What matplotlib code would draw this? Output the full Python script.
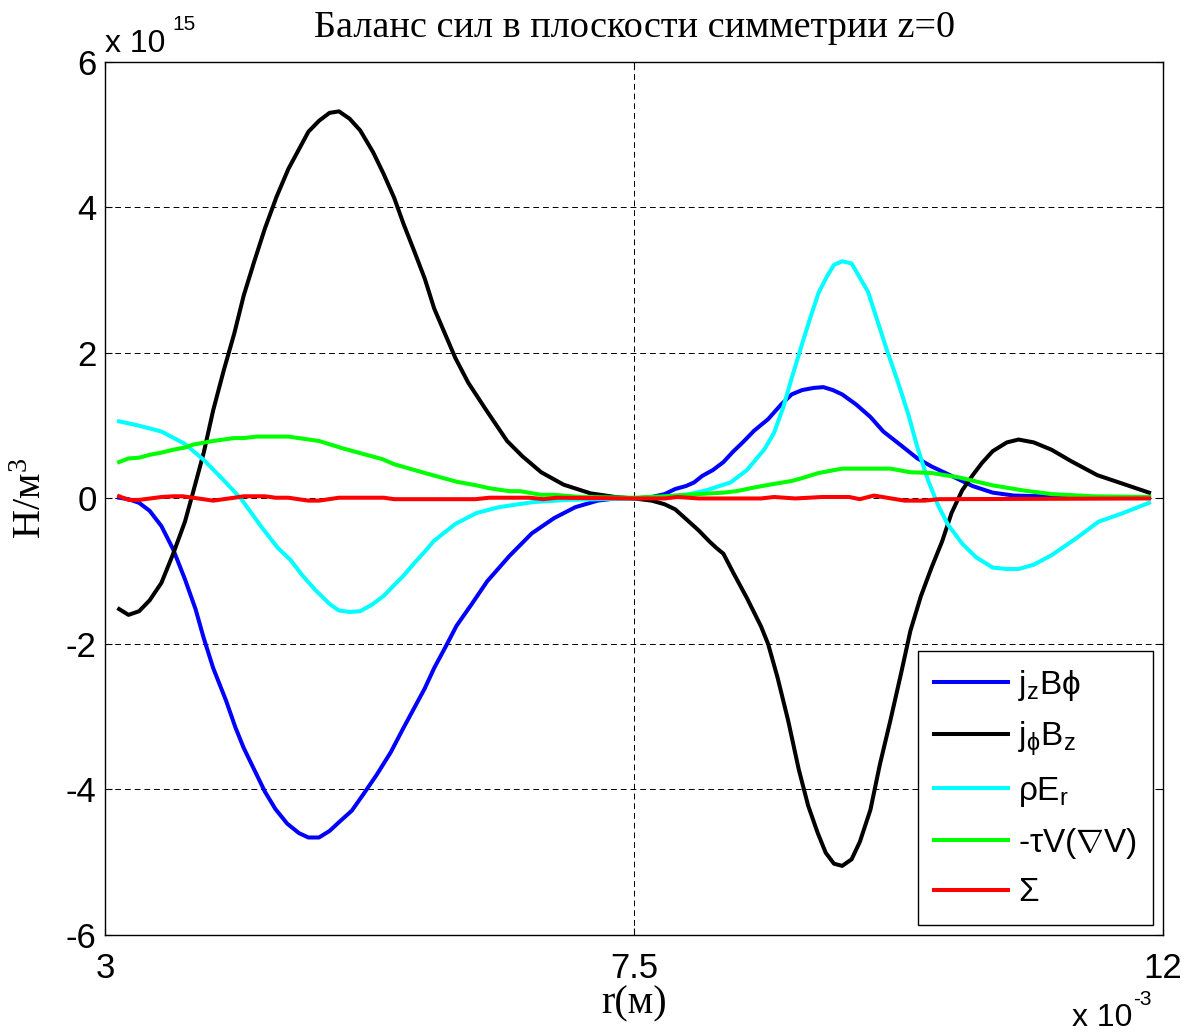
import matplotlib
matplotlib.use('Agg')
import matplotlib.pyplot as plt

plt.rcParams['font.family'] = ['Liberation Sans', 'DejaVu Sans']
plt.rcParams['axes.unicode_minus'] = False
plt.rcParams['mathtext.fontset'] = 'custom'
plt.rcParams['mathtext.rm'] = 'Liberation Serif'
plt.rcParams['mathtext.it'] = 'Liberation Serif'
plt.rcParams['mathtext.sf'] = 'Liberation Sans'

# r in units of 1e-3 m, forces in units of 1e15 N/m^3
# j_z B_phi (blue)
r_blue = [3.12, 3.20, 3.29, 3.38, 3.48, 3.58, 3.68, 3.77, 3.84, 3.92, 4.03, 4.11, 4.18, 4.27,
          4.36, 4.45, 4.55, 4.65, 4.73, 4.82, 4.91, 4.99, 5.10, 5.20, 5.31, 5.43, 5.54, 5.63,
          5.72, 5.80, 5.89, 5.99, 6.12, 6.25, 6.44, 6.63, 6.82, 7.00, 7.19, 7.34, 7.50,
          7.65, 7.76, 7.85, 7.94, 8.01, 8.08, 8.17, 8.26, 8.34, 8.43, 8.52, 8.64, 8.75, 8.84,
          8.93, 9.03, 9.11, 9.19, 9.27, 9.39, 9.51, 9.62, 9.77, 9.91, 10.03, 10.20, 10.38,
          10.55, 10.73, 10.96, 11.25, 11.88]
f_blue = [0.01, -0.01, -0.06, -0.17, -0.38, -0.70, -1.11, -1.52, -1.92, -2.33, -2.78, -3.15,
          -3.43, -3.73, -4.03, -4.27, -4.47, -4.60, -4.66, -4.66, -4.57, -4.45, -4.29, -4.06,
          -3.80, -3.49, -3.15, -2.88, -2.61, -2.33, -2.06, -1.75, -1.45, -1.14, -0.79, -0.48,
          -0.27, -0.12, -0.03, 0.0, 0.0,
          0.02, 0.06, 0.13, 0.17, 0.22, 0.31, 0.39, 0.50, 0.64, 0.78, 0.93, 1.09, 1.29, 1.43,
          1.49, 1.52, 1.53, 1.49, 1.43, 1.29, 1.12, 0.92, 0.73, 0.55, 0.44, 0.31, 0.17,
          0.08, 0.04, 0.03, 0.02, 0.01]

# j_phi B_z (black)
r_black = [3.12, 3.20, 3.29, 3.38, 3.48, 3.58, 3.68, 3.75, 3.84, 3.92, 4.01, 4.10, 4.18, 4.27,
           4.36, 4.46, 4.56, 4.65, 4.73, 4.82, 4.91, 4.99, 5.08, 5.17, 5.28, 5.37, 5.46, 5.54,
           5.63, 5.72, 5.80, 5.89, 5.98, 6.09, 6.24, 6.42, 6.55, 6.71, 6.90, 7.13, 7.34, 7.50,
           7.65, 7.76, 7.85, 7.94, 8.05, 8.14, 8.20, 8.26, 8.34, 8.46, 8.58, 8.64, 8.72, 8.81,
           8.90, 8.98, 9.06, 9.13, 9.20, 9.27, 9.35, 9.42, 9.51, 9.59, 9.68, 9.77, 9.85, 9.94,
           10.03, 10.12, 10.20, 10.29, 10.38, 10.46, 10.55, 10.67, 10.77, 10.90, 11.05, 11.22,
           11.44, 11.66, 11.88]
f_black = [-1.52, -1.60, -1.55, -1.40, -1.16, -0.76, -0.32, 0.09, 0.63, 1.21, 1.76, 2.27, 2.79,
           3.26, 3.71, 4.15, 4.53, 4.80, 5.04, 5.19, 5.30, 5.32, 5.22, 5.06, 4.76, 4.46, 4.13,
           3.77, 3.40, 3.02, 2.61, 2.27, 1.93, 1.59, 1.22, 0.79, 0.58, 0.36, 0.19, 0.07, 0.02,
           0.0,
           -0.03, -0.08, -0.15, -0.28, -0.44, -0.59, -0.68, -0.76, -1.01, -1.37, -1.76, -2.00,
           -2.46, -3.05, -3.72, -4.22, -4.59, -4.87, -5.02, -5.05, -4.96, -4.72, -4.28, -3.66,
           -3.05, -2.41, -1.82, -1.34, -0.95, -0.59, -0.20, 0.11, 0.32, 0.49, 0.65, 0.77, 0.81,
           0.77, 0.67, 0.51, 0.32, 0.20, 0.08]

# rho E_r (cyan)
r_cyan = [3.12, 3.29, 3.48, 3.68, 3.84, 4.01, 4.16, 4.33, 4.47, 4.58, 4.68, 4.79, 4.91, 4.99,
          5.08, 5.17, 5.27, 5.37, 5.46, 5.54, 5.63, 5.72, 5.80, 5.98, 6.16, 6.35, 6.64, 6.93,
          7.50, 7.76, 7.97, 8.11, 8.32, 8.46, 8.61, 8.69, 8.77, 8.84, 8.93, 9.00, 9.07, 9.14,
          9.20, 9.27, 9.35, 9.40, 9.49, 9.56, 9.65, 9.74, 9.83, 9.91, 10.00, 10.09, 10.17,
          10.29, 10.41, 10.55, 10.67, 10.77, 10.90, 11.05, 11.25, 11.45, 11.66, 11.88]
f_cyan = [1.06, 1.00, 0.92, 0.75, 0.53, 0.25, -0.01, -0.39, -0.68, -0.85, -1.06, -1.26, -1.45,
          -1.54, -1.56, -1.55, -1.46, -1.34, -1.19, -1.06, -0.89, -0.73, -0.58, -0.35, -0.20,
          -0.12, -0.05, -0.02, 0.0, 0.02, 0.06, 0.11, 0.22, 0.39, 0.68, 0.90, 1.26, 1.65, 2.13,
          2.49, 2.83, 3.05, 3.21, 3.26, 3.23, 3.09, 2.84, 2.49, 2.04, 1.62, 1.17, 0.70, 0.25,
          -0.11, -0.36, -0.62, -0.81, -0.95, -0.97, -0.97, -0.91, -0.78, -0.56, -0.32, -0.20,
          -0.06]

# -tau V (grad V) (green)
r_green = [3.12, 3.20, 3.29, 3.38, 3.48, 3.58, 3.68, 3.75, 3.92, 4.10, 4.18, 4.29, 4.56, 4.82,
           5.02, 5.20, 5.36, 5.46, 5.72, 5.99, 6.16, 6.27, 6.44, 6.53, 6.71, 6.82, 7.05, 7.50,
           7.76, 8.05, 8.26, 8.37, 8.52, 8.69, 8.84, 8.93, 9.07, 9.27, 9.68, 9.85, 10.03,
           10.26, 10.55, 10.81, 11.05, 11.40, 11.88]
f_green = [0.50, 0.55, 0.56, 0.60, 0.63, 0.67, 0.70, 0.74, 0.79, 0.83, 0.83, 0.85, 0.85, 0.79,
           0.69, 0.61, 0.54, 0.47, 0.35, 0.23, 0.18, 0.14, 0.10, 0.10, 0.05, 0.05, 0.02, 0.01,
           0.03, 0.06, 0.08, 0.10, 0.15, 0.20, 0.24, 0.28, 0.35, 0.41, 0.41, 0.36, 0.35, 0.29,
           0.18, 0.11, 0.06, 0.03, 0.02]

# sum (red)
r_red = [3.12, 3.20, 3.29, 3.48, 3.58, 3.66, 3.75, 3.92, 4.10, 4.18, 4.36, 4.45, 4.56, 4.73,
         4.82, 4.99, 5.37, 5.46, 6.15, 6.27, 6.61, 6.73, 6.84, 7.50, 7.76, 7.87, 8.05, 8.58,
         8.69, 8.87, 9.10, 9.33, 9.42, 9.54, 9.65, 9.80, 9.97, 10.09, 11.88]
f_red = [0.03, -0.02, -0.02, 0.02, 0.03, 0.03, 0.01, -0.03, 0.01, 0.03, 0.03, 0.01, 0.01, -0.03,
         -0.03, 0.01, 0.01, -0.01, -0.01, 0.01, 0.01, -0.01, 0.01, 0.0, 0.0, 0.02, 0.0, 0.0,
         0.02, 0.0, 0.02, 0.02, -0.01, 0.04, 0.01, -0.03, -0.03, -0.01, 0.0]

x_ticks = [3, 7.5, 12]
x_tick_labels = ['3', '7.5', '12']
y_ticks = [-6, -4, -2, 0, 2, 4, 6]
y_tick_labels = ['-6', '-4', '-2', '0', '2', '4', '6']

fig = plt.figure(figsize=(11.93, 10.32), dpi=100)
ax = fig.add_axes([0.088, 0.094, 0.887, 0.846])

lw = 2.9
ax.plot(r_blue, f_blue, color='#0000ff', lw=lw, label=r'$\mathsf{j_zB\phi}$')
ax.plot(r_black, f_black, color='black', lw=lw, label=r'$\mathsf{j_\phi B_z}$')
ax.plot(r_cyan, f_cyan, color='#00ffff', lw=lw, label=r'$\mathsf{\rho E_r}$')
ax.plot(r_green, f_green, color='#00ff00', lw=lw, label=r'-$\mathsf{\tau V(\nabla V)}$')
ax.plot(r_red, f_red, color='#ff0000', lw=lw, label=r'$\mathsf{\Sigma}$')

ax.set_xlim(3, 12)
ax.set_ylim(-6, 6)
ax.set_xticks(x_ticks)
ax.set_xticklabels(x_tick_labels)
ax.set_yticks(y_ticks)
ax.set_yticklabels(y_tick_labels)
ax.tick_params(direction='in', length=5, width=0.8, labelsize=25,
               top=True, right=True)
ax.tick_params(axis='x', pad=12)
ax.tick_params(axis='y', pad=6)
for s in ax.spines.values():
    s.set_linewidth(1.0)

ax.grid(True, color='black', linestyle=(0, (6, 4)), linewidth=0.7)

ax.set_title('Баланс сил в плоскости симметрии z=0', fontsize=27.5,
             family='Liberation Serif', pad=18)
ax.set_xlabel('r(м)', fontsize=29, family='Liberation Serif')
ax.xaxis.set_label_coords(0.5, -0.058)
ax.set_ylabel('Н/м$^3$', fontsize=29, family='Liberation Serif')
ax.yaxis.set_label_coords(-0.052, 0.5)

# exponent labels, MATLAB style
fig.text(0.088, 0.9496, 'x 10', fontsize=23, va='baseline', ha='left')
fig.text(0.1442, 0.971, '15', fontsize=15, va='baseline', ha='left')
fig.text(0.9493, 0.006, 'x 10', fontsize=23, va='baseline', ha='right')
fig.text(0.9497, 0.0262, '-3', fontsize=15, va='baseline', ha='left')

leg = ax.legend(loc='lower right', fontsize=24, handlelength=2.2, handletextpad=0.3,
                labelspacing=0.5, borderpad=0.5, borderaxespad=0.3,
                fancybox=False, framealpha=1, edgecolor='black')
leg.get_frame().set_linewidth(1.0)

fig.savefig('out.png', dpi=100)
